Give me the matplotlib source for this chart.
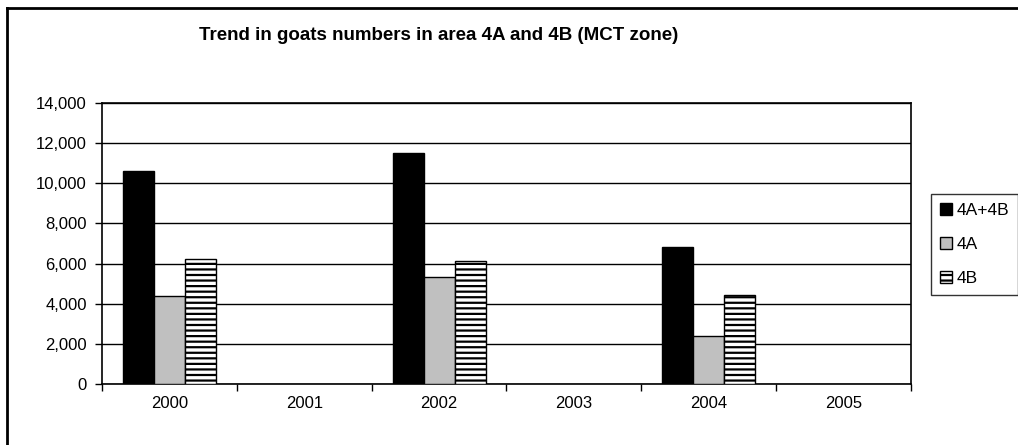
import numpy as np
import matplotlib.pyplot as plt
from matplotlib.lines import Line2D
from matplotlib.ticker import FuncFormatter

plt.rcParams['font.family'] = ['Liberation Sans', 'DejaVu Sans']
plt.rcParams['hatch.linewidth'] = 1.6

years = ['2000', '2001', '2002', '2003', '2004', '2005']
total = [10600, np.nan, 11500, np.nan, 6850, np.nan]
area_4a = [4370, np.nan, 5350, np.nan, 2400, np.nan]
area_4b = [6250, np.nan, 6150, np.nan, 4450, np.nan]

W, H = 1018, 445
fig = plt.figure(figsize=(W / 100, H / 100), dpi=100)
ax = fig.add_axes([102 / W, 1 - 384 / H, (911 - 102) / W, (384 - 103) / H])

x = np.arange(len(years))
bw = 0.23
ax.bar(x - bw, total, bw, color='black', edgecolor='black', linewidth=1, label='4A+4B', zorder=3)
ax.bar(x, area_4a, bw, color='#c0c0c0', edgecolor='black', linewidth=1, label='4A', zorder=3)
ax.bar(x + bw, area_4b, bw, color='white', edgecolor='black', linewidth=1,
       hatch='---', label='4B', zorder=3)

ax.set_xlim(-0.5, len(years) - 0.5)
ax.set_ylim(0, 14000)
ax.set_yticks(np.arange(0, 14001, 2000))
ax.yaxis.set_major_formatter(FuncFormatter(lambda v, p: '{:,.0f}'.format(v)))
ax.yaxis.grid(True, color='black', linewidth=1)
ax.set_axisbelow(True)

# ticks at category boundaries, labels at centers
ax.set_xticks(np.arange(-0.5, len(years), 1))
ax.set_xticklabels([])
ax.set_xticks(x, minor=True)
ax.set_xticklabels(years, minor=True)
ax.tick_params(axis='both', which='both', labelsize=12)
ax.tick_params(axis='x', which='minor', length=0, pad=9)
ax.tick_params(axis='x', which='major', length=5, width=1, direction='out')
ax.tick_params(axis='y', length=5, width=1, direction='out', pad=6)
for s in ax.spines.values():
    s.set_linewidth(1.2)
    s.set_color('black')

fig.text(439 / W, 1 - 35 / H, 'Trend in goats numbers in area 4A and 4B (MCT zone)',
         ha='center', va='center', fontsize=13.5, fontweight='bold',
         family=['Liberation Sans Narrow', 'Liberation Sans', 'DejaVu Sans'])

leg = fig.legend(loc='upper left', bbox_to_anchor=(931 / W, 1 - 194 / H),
                 fontsize=12.5, frameon=True, fancybox=False, edgecolor='black',
                 handlelength=0.7, handleheight=0.7, handletextpad=0.3,
                 labelspacing=1.1, borderpad=0.5, borderaxespad=0)
leg.get_frame().set_linewidth(1)

# outer chart border (left and top only visible)
fig.add_artist(Line2D([7 / W, 7 / W], [0, 1 - 8 / H], color='black', linewidth=2))
fig.add_artist(Line2D([7 / W, 1], [1 - 8 / H, 1 - 8 / H], color='black', linewidth=2))

fig.savefig('out.png', dpi=100)
